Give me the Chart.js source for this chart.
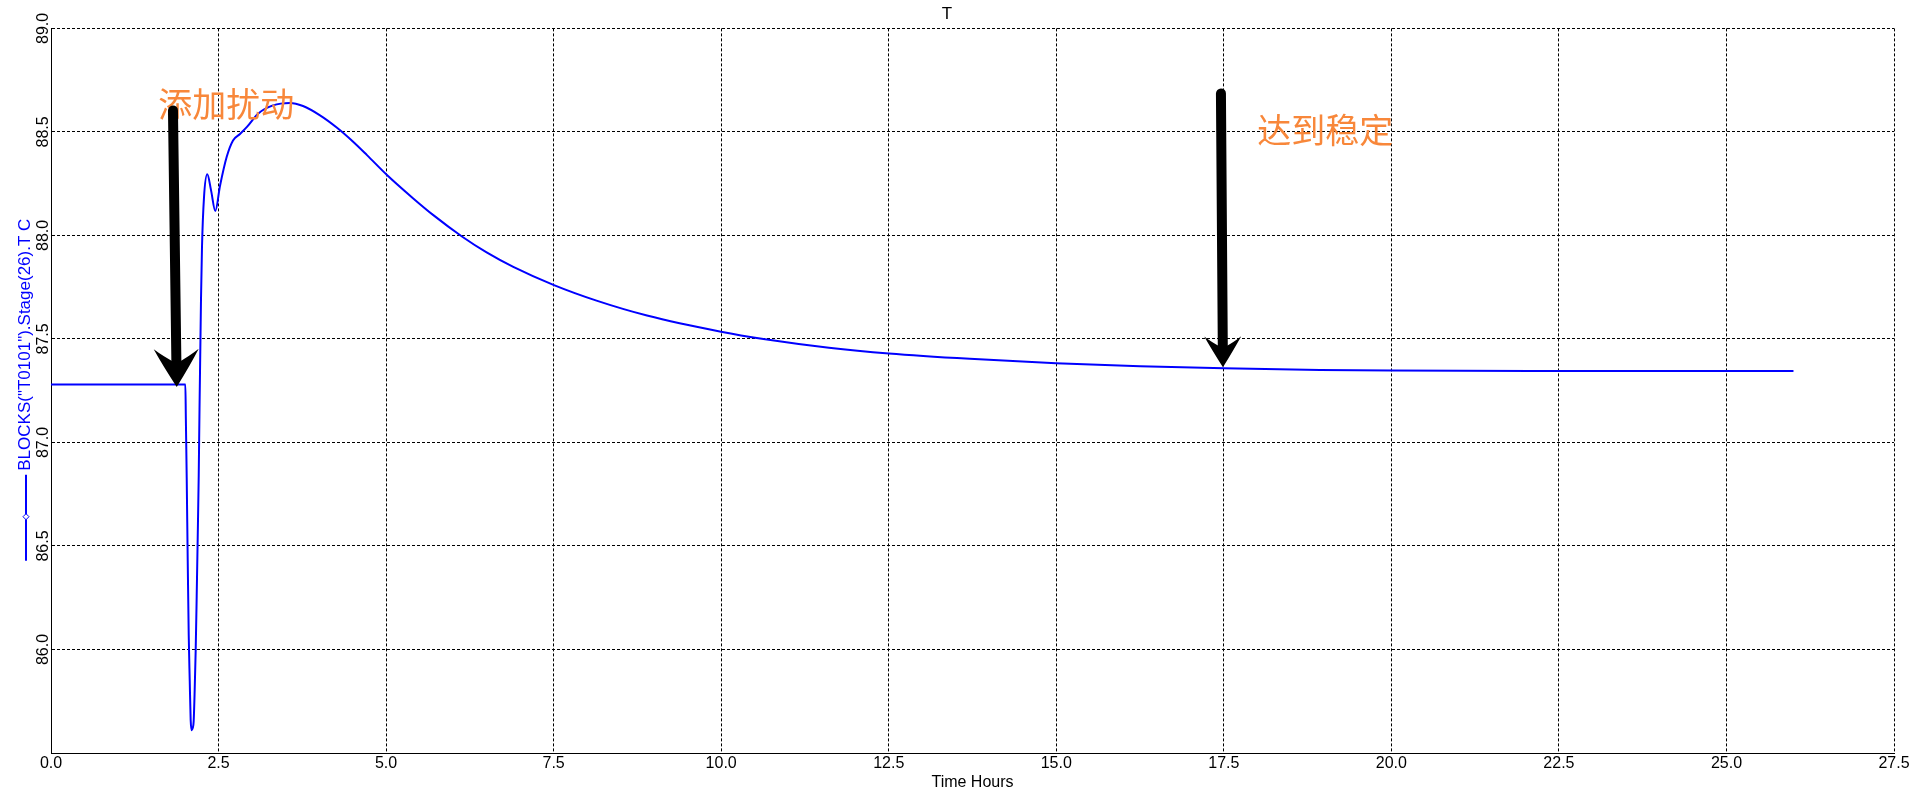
<!DOCTYPE html>
<html>
<head>
<meta charset="UTF-8">
<script src="https://cdn.jsdelivr.net/npm/chart.js@4.4.1/dist/chart.umd.min.js"></script>
<style>
    body { margin: 0; background: #fff; }
</style>
</head>
<body>
<canvas id="tChart" width="1916" height="800"></canvas>
<script>
    // BLOCKS("T0101").Stage(26).T
    const timeHours = [0, 2.005, 2.012, 2.025, 2.040, 2.055, 2.070, 2.084, 2.099, 2.114, 2.129, 2.144,
        2.159, 2.174, 2.189, 2.204, 2.216, 2.238, 2.253, 2.283, 2.332, 2.387, 2.452, 2.522, 2.622,
        2.716, 2.820, 2.924, 3.089, 3.312, 3.566, 3.760, 4.014, 4.268, 4.500, 4.715, 5.013, 5.401, 5.705,
        6.132, 6.500, 6.898, 7.505, 8.140, 8.893, 9.997, 10.630, 11.608, 12.503, 13.710, 14.995, 16.250,
        17.502, 18.935, 20.0, 22.5, 26.0];
    const stageTemp = [87.28, 87.28, 87.12, 86.83, 86.43, 86.07, 85.85, 85.66, 85.61, 85.62, 85.654, 85.804,
        85.997, 86.258, 86.538, 86.837, 87.161, 87.687, 87.943, 88.184, 88.295, 88.22, 88.118, 88.24, 88.38,
        88.459, 88.49, 88.524, 88.588, 88.628, 88.640, 88.625, 88.580, 88.520, 88.455, 88.388, 88.292, 88.180, 88.098,
        87.995, 87.918, 87.848, 87.760, 87.685, 87.613, 87.535, 87.500, 87.458, 87.430, 87.404, 87.383, 87.368,
        87.358, 87.350, 87.347, 87.345, 87.345];

    const xMin = 0, xMax = 27.5, xStep = 2.5;
    const yMin = 85.5, yMax = 89.0, yStep = 0.5;

    const seriesLabel = 'BLOCKS("T0101").Stage(26).T C';
    const xTitle = 'Time Hours';
    const chartTitle = 'T';

    // annotations (data units)
    const noteText = ['添加扰动', '达到稳定'];
    const noteX = [1.60, 18.0];
    const noteY = [88.633, 88.508];
    const arrowTopX = [1.820, 17.457];
    const arrowTopY = [88.604, 88.686];
    const arrowTipX = [1.876, 17.487];
    const arrowTipY = [87.268, 87.363];
    const arrowHalf = [22.5, 18.5];
    const arrowLen = [38, 31];

    const FONT = '"Liberation Sans", Arial, sans-serif';
    const CJK = '"Noto Sans CJK SC", sans-serif';

    const points = [];
    for (var i = 0; i < timeHours.length; i++) {
        points.push({x: timeHours[i], y: stageTemp[i]});
    }

    function drawArrow(ctx, x0, y0, x1, y1, half, len) {
        var dx = x1 - x0, dy = y1 - y0, L = Math.hypot(dx, dy);
        var ux = dx / L, uy = dy / L, px = -uy, py = ux;
        var notch = len * 0.62;
        var nx = x1 - ux * notch, ny = y1 - uy * notch;
        ctx.strokeStyle = '#000';
        ctx.fillStyle = '#000';
        ctx.lineWidth = 10;
        ctx.lineCap = 'round';
        ctx.beginPath();
        ctx.moveTo(x0, y0);
        ctx.lineTo(nx + ux * 2, ny + uy * 2);
        ctx.stroke();
        var bx = x1 - ux * len, by = y1 - uy * len;
        var lx = bx + px * half, ly = by + py * half;
        var rx = bx - px * half, ry = by - py * half;
        ctx.beginPath();
        ctx.moveTo(x1, y1);
        ctx.quadraticCurveTo((x1 + lx) / 2 + px * half * 0.12, (y1 + ly) / 2 + py * half * 0.12 - uy * 3, lx, ly);
        ctx.quadraticCurveTo((lx + nx) / 2 + px * 2, (ly + ny) / 2 - ux * 2, nx, ny);
        ctx.quadraticCurveTo((rx + nx) / 2 - px * 2, (ry + ny) / 2 - ux * 2, rx, ry);
        ctx.quadraticCurveTo((x1 + rx) / 2 - px * half * 0.12, (y1 + ry) / 2 - py * half * 0.12 - uy * 3, x1, y1);
        ctx.closePath();
        ctx.fill();
    }

    const decorPlugin = {
        id: 'decor',
        afterDraw(chart) {
            const ctx = chart.ctx;
            const xs = chart.scales.x, ys = chart.scales.y;
            const area = chart.chartArea;

            // y tick labels, rotated
            ctx.save();
            ctx.font = '16px ' + FONT;
            ctx.fillStyle = '#000';
            ctx.textAlign = 'center';
            ctx.textBaseline = 'middle';
            ys.ticks.forEach(function(t) {
                if (t.value <= ys.min + 1e-9) return;
                var py = ys.getPixelForValue(t.value);
                ctx.save();
                ctx.translate(ys.right - 7.5, py);
                ctx.rotate(-Math.PI / 2);
                ctx.fillText(t.value.toFixed(1), 0, 0);
                ctx.restore();
            });
            ctx.restore();

            // y title with legend marker
            var midY = (area.top + area.bottom) / 2;
            ctx.save();
            ctx.font = '17px ' + FONT;
            ctx.fillStyle = '#0000ff';
            ctx.textAlign = 'center';
            ctx.textBaseline = 'middle';
            ctx.translate(25, midY - 46);
            ctx.rotate(-Math.PI / 2);
            ctx.fillText(seriesLabel, 0, 0);
            ctx.restore();

            ctx.save();
            ctx.strokeStyle = '#0000ff';
            ctx.lineWidth = 2;
            ctx.beginPath();
            ctx.moveTo(26, midY + 84);
            ctx.lineTo(26, midY + 170);
            ctx.stroke();
            ctx.fillStyle = '#fff';
            ctx.lineWidth = 1;
            ctx.beginPath();
            ctx.moveTo(26, midY + 123);
            ctx.lineTo(29, midY + 126);
            ctx.lineTo(26, midY + 129);
            ctx.lineTo(23, midY + 126);
            ctx.closePath();
            ctx.fill();
            ctx.stroke();
            ctx.restore();

            // annotations
            ctx.save();
            ctx.font = '34px ' + CJK;
            ctx.fillStyle = '#f8873a';
            ctx.textAlign = 'left';
            ctx.textBaseline = 'middle';
            for (var k = 0; k < noteText.length; k++) {
                ctx.fillText(noteText[k], xs.getPixelForValue(noteX[k]), ys.getPixelForValue(noteY[k]));
            }
            for (var j = 0; j < arrowTopX.length; j++) {
                drawArrow(ctx,
                    xs.getPixelForValue(arrowTopX[j]), ys.getPixelForValue(arrowTopY[j]),
                    xs.getPixelForValue(arrowTipX[j]), ys.getPixelForValue(arrowTipY[j]),
                    arrowHalf[j], arrowLen[j]);
            }
            ctx.restore();
        }
    };

    new Chart(document.getElementById('tChart'), {
        type: 'line',
        data: {
            datasets: [{
                label: seriesLabel,
                data: points,
                borderColor: '#0000ff',
                borderWidth: 2,
                pointRadius: 0,
                cubicInterpolationMode: 'monotone',
                fill: false
            }]
        },
        options: {
            responsive: false,
            animation: false,
            layout: { padding: { left: 0, right: 22, top: 0, bottom: 0 } },
            plugins: {
                legend: { display: false },
                tooltip: { enabled: false },
                title: {
                    display: true,
                    text: chartTitle,
                    color: '#000',
                    font: { family: FONT, size: 17, weight: 'normal' },
                    padding: { top: 4, bottom: 4 }
                }
            },
            scales: {
                x: {
                    type: 'linear',
                    min: xMin,
                    max: xMax,
                    ticks: {
                        stepSize: xStep,
                        color: '#000',
                        font: { family: FONT, size: 16 },
                        padding: 1,
                        maxRotation: 0,
                        callback: function(v) { return Number(v).toFixed(1); }
                    },
                    grid: { color: '#000', lineWidth: 1, drawTicks: false },
                    border: { display: true, color: '#000', width: 1, dash: [3, 2] },
                    title: {
                        display: true,
                        text: xTitle,
                        color: '#000',
                        font: { family: FONT, size: 16 },
                        padding: { top: 0, bottom: 8 }
                    },
                    afterFit: function(scale) { scale.height = 47; }
                },
                y: {
                    type: 'linear',
                    min: yMin,
                    max: yMax,
                    ticks: { stepSize: yStep, display: false },
                    grid: { color: '#000', lineWidth: 1, drawTicks: false },
                    border: { display: true, color: '#000', width: 1, dash: [3, 2] },
                    afterFit: function(scale) { scale.width = 51; }
                }
            }
        },
        plugins: [decorPlugin]
    });
</script>
</body>
</html>
